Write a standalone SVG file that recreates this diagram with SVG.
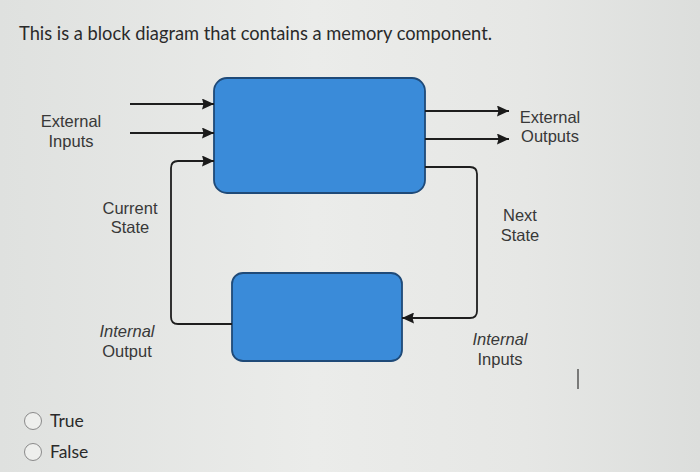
<svg xmlns="http://www.w3.org/2000/svg" width="700" height="472" viewBox="0 0 700 472">
<defs>
<linearGradient id="bg" x1="0" y1="0" x2="1" y2="0">
<stop offset="0" stop-color="#dfe1df"/>
<stop offset="0.45" stop-color="#ebecea"/>
<stop offset="0.75" stop-color="#e6e7e5"/>
<stop offset="1" stop-color="#dcdedc"/>
</linearGradient>
<marker id="arr" viewBox="0 0 12 11" refX="12" refY="5.5" markerWidth="12" markerHeight="11" markerUnits="userSpaceOnUse" orient="auto">
<path d="M0,0 L12,5.5 L0,11 L1.5,5.5 Z" fill="#1a1a1a"/>
</marker>
</defs>
<style>
.lbl{font-family:"Liberation Sans",Arial,sans-serif;font-size:16.5px;fill:#383838;text-anchor:middle}
.it{font-style:italic}
.ui{font-family:Lato,"Open Sans",sans-serif;fill:#2a2a2a}
.blk{fill:#3a8bd9;stroke:#1f4a78;stroke-width:1.8}
.wire{fill:none;stroke:#1e1e1e;stroke-width:1.8}
</style>
<rect width="700" height="472" fill="url(#bg)"/>
<text class="ui" x="19" y="40" font-size="19" textLength="473" lengthAdjust="spacingAndGlyphs">This is a block diagram that contains a memory component.</text>
<g id="combinational-logic">
<rect class="blk" x="214" y="78" width="211" height="115" rx="13"/>
</g>
<g id="memory">
<rect class="blk" x="232" y="273" width="170" height="88" rx="11"/>
</g>
<g id="connectors">
<path class="wire" d="M130,104 H214" marker-end="url(#arr)"/>
<path class="wire" d="M130,133 H214" marker-end="url(#arr)"/>
<path class="wire" d="M425,111 H509" marker-end="url(#arr)"/>
<path class="wire" d="M425,139 H509" marker-end="url(#arr)"/>
<path class="wire" d="M425,167 H470 Q477,167 477,174 V311 Q477,318 470,318 H402" marker-end="url(#arr)"/>
<path class="wire" d="M232,324 H178 Q171,324 171,317 V168 Q171,161 178,161 H214" marker-end="url(#arr)"/>
</g>
<g id="labels">
<text class="lbl" x="71" y="127">External</text>
<text class="lbl" x="71" y="147">Inputs</text>
<text class="lbl" x="550" y="123">External</text>
<text class="lbl" x="550" y="142">Outputs</text>
<text class="lbl" x="130" y="214">Current</text>
<text class="lbl" x="130" y="233">State</text>
<text class="lbl" x="520" y="221">Next</text>
<text class="lbl" x="520" y="241">State</text>
<text class="lbl it" x="127" y="337">Internal</text>
<text class="lbl" x="127" y="357">Output</text>
<text class="lbl it" x="500" y="345">Internal</text>
<text class="lbl" x="500" y="365">Inputs</text>
</g>
<line x1="578" y1="369" x2="578" y2="389" stroke="#333" stroke-width="1.2"/>
<g id="options">
<circle cx="33" cy="421" r="8.5" fill="#eeefed" stroke="#8a8a8a" stroke-width="1"/>
<text class="ui" x="50" y="427" font-size="17.5">True</text>
<circle cx="33" cy="452" r="8.5" fill="#eeefed" stroke="#8a8a8a" stroke-width="1"/>
<text class="ui" x="50" y="458" font-size="17.5">False</text>
</g>
</svg>
